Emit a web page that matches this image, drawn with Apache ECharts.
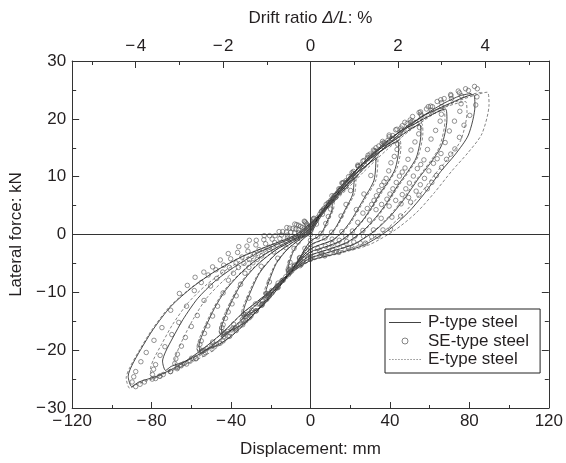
<!DOCTYPE html>
<html>
<head>
<meta charset="utf-8">
<script src="https://cdn.jsdelivr.net/npm/echarts@6/dist/echarts.min.js"></script>
<style>
html,body{margin:0;padding:0;background:#fff;}
#chart{width:566px;height:463px;}
</style>
</head>
<body>
<div id="chart"></div>
<script>
// ---- Data (displacement mm, lateral force kN) ----
const seriesNames = ['P-type steel', 'SE-type steel', 'E-type steel'];

const pType = [
  [0,0],[4,2.5],[8,4.4],
  [11,5.8],[10.7,4.1],[8.8,2.6],[6.6,0.9],[5.3,0.2],[3.6,-0.4],[0,-1.1],[-2.8,-2.5],[-5.5,-4.1],[-8.1,-5.4],[-10.6,-6.1],[-11,-6.2],
  [-11.2,-5.8],[-10.5,-4.7],[-8.6,-2.9],[-5.8,-1.5],[-2.4,-0.4],[-0.9,0],[0.4,0.7],[3.3,2.5],[6.2,4.2],[9.0,5.4],
  [22,9.8],[21.3,7.0],[17.6,4.4],[13.2,1.5],[10.6,0.3],[7.3,-0.7],[0,-1.8],[-5.5,-4.2],[-11,-7.0],[-16.3,-9.2],[-21.1,-10.4],[-22,-10.7],
  [-22.4,-9.9],[-20.9,-8.1],[-17.2,-5.0],[-11.7,-2.6],[-4.8,-0.7],[-1.8,0],[0.9,1.2],[6.6,4.3],[12.3,7.2],[18.0,9.2],
  [33,13.2],[32,9.4],[26.4,5.9],[19.8,2.1],[15.8,0.4],[10.9,-1.0],[0,-2.5],[-8.3,-5.6],[-16.5,-9.4],[-24.4,-12.4],[-31.7,-13.9],[-33,-14.3],
  [-33.7,-13.3],[-31.4,-10.9],[-25.7,-6.7],[-17.5,-3.4],[-7.3,-1.0],[-2.6,0],[1.3,1.7],[9.9,5.8],[18.5,9.6],[27.1,12.4],
  [44,16.1],[44.4,14.7],[42.7,11.4],[39.2,9.2],[35.2,7.2],[30.8,4.7],[26.4,2.5],[21.1,0.5],[14.5,-1.2],[7.0,-2.2],[0,-3.0],
  [-5.3,-4.5],[-11,-6.9],[-16.7,-9.0],[-22,-11.4],[-27.3,-13.4],[-32.6,-15.1],[-37.8,-16.2],[-42.2,-16.9],[-44,-17.4],
  [-44.9,-16.2],[-44,-15.1],[-41.8,-13.2],[-38.7,-10.9],[-34.3,-8.2],[-29,-6.0],[-23.3,-4.2],[-16.7,-2.5],[-9.7,-1.2],[-3.5,0],
  [1.8,2.0],[7.5,4.4],[13.2,7.0],[18.9,9.5],[24.6,11.7],[30.4,13.6],[36.1,15.1],[40.5,15.9],
  [55,19.0],[55.6,17.4],[53.4,13.4],[49,10.9],[44,8.5],[38.5,5.5],[33,3.0],[26.4,0.6],[18.2,-1.4],[8.8,-2.6],[0,-3.6],
  [-6.6,-5.3],[-13.8,-8.1],[-20.9,-10.7],[-27.5,-13.4],[-34.1,-15.8],[-40.7,-17.8],[-47.3,-19.2],[-52.8,-19.9],[-55,-20.5],
  [-56.1,-19.2],[-55,-17.8],[-52.3,-15.6],[-48.4,-12.8],[-42.9,-9.7],[-36.3,-7.1],[-29.2,-4.9],[-20.9,-3.0],[-12.1,-1.4],[-4.4,0],
  [2.2,2.4],[9.4,5.1],[16.5,8.3],[23.7,11.3],[30.8,13.8],[38,16.0],[45.1,17.8],[50.6,18.8],
  [68,21.7],[68.7,19.9],[66,15.4],[60.5,12.4],[54.4,9.7],[47.6,6.3],[40.8,3.4],[32.6,0.7],[22.4,-1.6],[10.9,-2.9],[0,-4.1],
  [-8.8,-6.1],[-18.3,-9.3],[-27.7,-12.2],[-36.5,-15.4],[-45.3,-18.1],[-54,-20.3],[-62.8,-21.9],[-70.1,-22.8],[-73,-23.5],
  [-74.5,-21.9],[-73,-20.3],[-69.4,-17.9],[-64.2,-14.7],[-56.9,-11.1],[-48.2,-8.1],[-38.7,-5.7],[-27.7,-3.4],[-16.1,-1.6],[-5.8,0],
  [2.7,2.7],[11.6,5.9],[20.4,9.5],[29.2,12.9],[38.1,15.8],[46.9,18.3],[55.8,20.3],[62.6,21.5],
  [82,24.2],[82.8,22.2],[79.5,17.2],[73,13.9],[65.6,10.9],[57.4,7.1],[49.2,3.8],[39.4,0.8],[27.1,-1.8],[13.1,-3.3],[0,-4.5],
  [-10.8,-6.8],[-22.5,-10.4],[-34.2,-13.6],[-45,-17.2],[-55.8,-20.2],[-66.6,-22.7],[-77.4,-24.5],[-86.4,-25.5],[-90,-26.3],
  [-91.8,-24.5],[-90,-22.7],[-85.5,-19.9],[-79.2,-16.4],[-70.2,-12.4],[-59.4,-9.1],[-47.7,-6.3],[-34.2,-3.8],[-19.8,-1.8],[-7.2,0],
  [3.3,3.0],[13.9,6.6],[24.6,10.6],[35.3,14.4],[45.9,17.7],[56.6,20.5],[67.2,22.7],[75.4,24.0],[81,24.4]
];

const seType = [
  [0,0],[3,1.8],[6,3.5],
  [11,5.9],[10.1,4.4],[9.0,3.1],[7.7,1.9],[5.3,0.2],[3.6,-0.4],[0,-1.0],[-2.8,-2.4],[-5.5,-4.0],[-8.1,-5.3],[-10.5,-6.0],[-11,-6.2],
  [-11.2,-6.0],[-10.3,-4.8],[-8.3,-2.4],[-6.2,-1.3],[-3.9,-0.2],[-2.0,0.1],[-1.0,0.4],[0.2,0.7],[3.0,2.4],[5.4,3.9],[7.9,5.2],[10.2,5.9],
  [22,10.1],[20.2,7.6],[17.9,5.2],[15.4,3.2],[10.6,0.4],[7.3,-0.6],[0,-1.7],[-5.5,-4.1],[-11,-6.9],[-16.3,-9.1],[-20.9,-10.25],[-22,-10.6],
  [-22.4,-10.25],[-20.7,-8.2],[-16.5,-4.1],[-12.3,-2.3],[-7.7,-0.4],[-4.0,0.2],[-2.0,0.7],[0.4,1.1],[5.9,4.1],[10.8,6.7],[15.8,8.9],[20.5,10.1],
  [33,13.6],[30.4,10.2],[26.9,7.0],[23.1,4.3],[15.8,0.5],[10.9,-0.8],[0,-2.3],[-8.3,-5.5],[-16.5,-9.2],[-24.4,-12.2],[-31.4,-13.75],[-33,-14.2],
  [-33.7,-13.75],[-31,-11.0],[-24.8,-5.5],[-18.5,-3.0],[-11.6,-0.6],[-5.9,0.3],[-3.0,1.0],[0.7,1.5],[8.9,5.5],[16.2,8.9],[23.8,12.0],[30.7,13.6],
  [37,15.2],
  [44,16.6],[43.9,15.6],[43.6,14.7],[42.2,13.5],[40.5,12.4],[39.4,11],[38.1,9.7],[37,9.1],[35.9,8.5],[34.5,7.6],[33.2,6.7],[32,5.9],[30.8,5.2],[28.6,4.5],[26.4,3.7],[23.8,2.1],[21.1,0.6],[17.8,-0.3],[14.5,-1.0],[11,-1.6],[7.5,-2.0],[3.7,-2.4],[0,-2.8],
  [-2.6,-3.5],[-5.3,-4.4],[-8.1,-5.5],[-11,-6.7],[-13.9,-7.9],[-16.7,-9.0],[-19.4,-10.1],[-22,-11.2],[-24.7,-12.2],[-27.3,-13.2],[-30,-14.1],[-32.6,-14.9],[-35.2,-15.6],[-37.8,-16.1],[-39.8,-16.5],[-41.8,-16.75],[-43,-17.0],[-44,-17.3],
  [-44.9,-16.75],[-44.6,-16.1],[-44,-15.6],[-42.8,-14.5],[-41.4,-13.4],[-39.5,-12.0],[-37.4,-10.6],[-35.2,-8.6],[-33,-6.7],[-31,-5.7],[-29,-4.9],[-26.8,-4.3],[-24.6,-3.7],[-22.6,-2.9],[-20.7,-2.2],[-18,-1.4],[-15.4,-0.7],[-11.6,-0.1],[-7.9,0.3],[-6,0.8],[-4,1.2],[-1.5,1.5],
  [0.9,1.8],[3.8,3.0],[6.6,4.2],[9.3,5.5],[11.9,6.7],[14.3,7.9],[16.7,9.0],[19.2,10.0],[21.6,10.9],[24,11.8],[26.4,12.7],[29,13.7],[31.7,14.6],[34.4,15.3],[37,15.9],[39,16.3],[40.9,16.6],
  [45,17.6],[50,18.7],
  [55,19.6],[54.9,18.5],[54.5,17.4],[52.6,16.0],[50.6,14.6],[49.1,13.0],[47.6,11.5],[46.2,10.8],[44.8,10.1],[43.2,9.0],[41.5,7.9],[40,7.0],[38.5,6.1],[35.8,5.2],[33,4.3],[29.7,2.5],[26.4,0.7],[22.3,-0.3],[18.2,-1.2],[13.8,-1.8],[9.4,-2.4],[4.7,-2.9],[0,-3.4],
  [-3.3,-4.2],[-6.6,-5.1],[-10.2,-6.5],[-13.8,-7.9],[-17.4,-9.3],[-20.9,-10.7],[-24.2,-12.0],[-27.5,-13.2],[-30.8,-14.4],[-34.1,-15.6],[-37.4,-16.6],[-40.7,-17.6],[-44,-18.4],[-47.3,-19.0],[-49.8,-19.4],[-52.3,-19.75],[-53.7,-20.0],[-55,-20.3],
  [-56.1,-19.75],[-55.7,-19.0],[-55,-18.4],[-53.4,-17.1],[-51.7,-15.8],[-49.3,-14.1],[-46.8,-12.4],[-44,-10.1],[-41.3,-7.9],[-38.8,-6.7],[-36.3,-5.7],[-33.5,-5.0],[-30.8,-4.3],[-28.3,-3.4],[-25.9,-2.6],[-22.6,-1.6],[-19.3,-0.8],[-14.6,-0.1],[-9.9,0.4],[-7.4,0.9],[-5,1.4],[-1.9,1.8],
  [1.1,2.2],[4.7,3.5],[8.3,4.9],[11.6,6.4],[14.9,7.9],[17.9,9.3],[20.9,10.7],[24,11.8],[27,12.8],[30,13.9],[33,15.0],[36.3,16.1],[39.6,17.2],[42.9,18.1],[46.2,18.8],[48.7,19.2],[51.2,19.6],
  [56,20.5],[61,21.4],
  [66,22.1],[65.9,20.8],[65.3,19.6],[63,18.0],[60.7,16.5],[58.9,14.7],[57.1,12.9],[55.5,12.1],[53.8,11.4],[51.8,10.1],[49.8,8.9],[48,7.9],[46.2,6.9],[42.9,5.9],[39.6,4.9],[35.6,2.8],[31.7,0.8],[26.7,-0.3],[21.8,-1.3],[16.5,-2.0],[11.2,-2.7],[5.6,-3.3],[0,-3.8],
  [-4,-4.7],[-8,-5.8],[-12.4,-7.3],[-16.8,-8.9],[-21.1,-10.5],[-25.5,-12.0],[-29.5,-13.5],[-33.5,-14.9],[-37.5,-16.3],[-41.5,-17.6],[-45.5,-18.8],[-49.6,-19.8],[-53.6,-20.7],[-57.6,-21.4],[-60.6,-21.9],[-63.7,-22.3],[-65.4,-22.6],[-67,-23.0],
  [-68.3,-22.3],[-67.8,-21.5],[-67,-20.7],[-65,-19.3],[-63,-17.8],[-60,-15.9],[-57,-14.0],[-53.6,-11.4],[-50.3,-8.9],[-47.2,-7.6],[-44.2,-6.5],[-40.8,-5.7],[-37.5,-4.9],[-34.5,-3.9],[-31.5,-2.9],[-27.5,-1.8],[-23.5,-0.9],[-17.8,-0.2],[-12.1,0.4],[-9,1.0],[-6,1.6],[-2.4,2.0],
  [1.3,2.5],[5.6,4.0],[9.9,5.6],[13.8,7.2],[17.8,8.9],[21.4,10.5],[25.1,12.0],[28.7,13.3],[32.3,14.5],[36,15.7],[39.6,16.9],[43.5,18.2],[47.5,19.4],[51.4,20.4],[55.4,21.2],[58.4,21.7],[61.4,22.1],
  [66,22.8],[71,23.5],
  [76,24.0],[75.8,22.6],[75.2,21.3],[72.5,19.6],[69.9,17.9],[67.8,15.9],[65.7,14.0],[63.8,13.1],[61.9,12.3],[59.6,11.0],[57.4,9.7],[55.3,8.6],[53.2,7.5],[49.4,6.4],[45.6,5.3],[41,3.0],[36.5,0.8],[30.8,-0.4],[25.1,-1.5],[19,-2.2],[12.9,-2.9],[6.4,-3.5],[0,-4.1],
  [-4.7,-5.2],[-9.4,-6.3],[-14.4,-8.0],[-19.5,-9.7],[-24.5,-11.4],[-29.6,-13.1],[-34.3,-14.7],[-39,-16.2],[-43.7,-17.7],[-48.4,-19.1],[-53,-20.4],[-57.7,-21.5],[-62.4,-22.4],[-67.1,-23.2],[-70.6,-23.7],[-74.1,-24.2],[-76,-24.5],[-78,-24.9],
  [-79.6,-24.2],[-79,-23.3],[-78,-22.5],[-75.7,-20.9],[-73.3,-19.4],[-69.8,-17.3],[-66.3,-15.2],[-62.4,-12.4],[-58.5,-9.7],[-55,-8.3],[-51.5,-7.0],[-47.6,-6.1],[-43.7,-5.3],[-40.2,-4.2],[-36.7,-3.1],[-32,-2.0],[-27.3,-1.0],[-20.6,-0.2],[-14,0.5],[-10.5,1.1],[-7,1.7],[-2.8,2.2],
  [1.5,2.7],[6.5,4.4],[11.4,6.1],[16,7.9],[20.5,9.7],[24.7,11.4],[28.9,13.1],[33,14.4],[37.2,15.7],[41.4,17.1],[45.6,18.4],[50.2,19.8],[54.7,21.1],[59.3,22.1],[63.8,23.0],[67.3,23.5],[70.7,24.0],
  [75,24.5],[79.5,24.9],
  [84,25.2],[83.8,23.8],[83.2,22.4],[80.2,20.6],[77.3,18.9],[75,16.8],[72.7,14.8],[70.6,13.9],[68.5,13.0],[66,11.6],[63.4,10.2],[61.1,9.0],[58.8,7.9],[54.6,6.8],[50.4,5.6],[45.4,3.2],[40.3,0.9],[34,-0.3],[27.7,-1.5],[21,-2.3],[14.3,-3.1],[7.2,-3.7],[0,-4.3],
  [-5.3,-5.4],[-10.6,-6.6],[-16.3,-8.4],[-22,-10.2],[-27.7,-12.0],[-33.4,-13.8],[-38.7,-15.5],[-44,-17.1],[-49.3,-18.6],[-54.6,-20.1],[-59.9,-21.4],[-65.1,-22.7],[-70.4,-23.7],[-75.7,-24.5],[-79.7,-25.0],[-83.6,-25.5],[-85.8,-25.9],[-88,-26.3],
  [-89.8,-25.5],[-89,-24.6],[-88,-23.7],[-85.4,-22.0],[-82.7,-20.4],[-78.8,-18.3],[-74.8,-16.1],[-70.4,-13.1],[-66,-10.2],[-62,-8.8],[-58.1,-7.4],[-53.7,-6.5],[-49.3,-5.6],[-45.4,-4.4],[-41.4,-3.3],[-36.1,-2.1],[-30.8,-1.0],[-23.3,-0.2],[-15.8,0.5],[-11.9,1.2],[-7.9,1.8],[-3.1,2.3],
  [1.7,2.8],[7.2,4.6],[12.6,6.4],[17.7,8.3],[22.7,10.2],[27.3,12.0],[31.9,13.8],[36.6,15.2],[41.2,16.6],[45.8,18.0],[50.4,19.4],[55.5,20.8],[60.5,22.2],[65.6,23.3],[70.6,24.2],[74.4,24.8],[78.1,25.2],[82.6,25.6]
];

const eType = [
  [0,0],[4,2.6],[8,4.6],
  [12,6.1],[11.6,4.4],[9.6,2.8],[7.2,1.0],[5.8,0.2],[4.0,-0.4],[0,-1.2],[-3.0,-2.6],[-6.0,-4.4],[-8.9,-5.8],[-11.5,-6.5],[-12,-6.7],
  [-12.2,-6.2],[-11.4,-5.1],[-9.4,-3.1],[-6.4,-1.6],[-2.6,-0.4],[-1.0,0],[0.5,0.8],[3.6,2.7],[6.7,4.5],[9.8,5.8],
  [23,10.2],[22.3,7.2],[18.4,4.6],[13.8,1.6],[11,0.3],[7.6,-0.7],[0,-1.9],[-5.8,-4.3],[-11.5,-7.2],[-17,-9.5],[-22.1,-10.7],[-23,-11.0],
  [-23.5,-10.3],[-21.9,-8.4],[-17.9,-5.2],[-12.2,-2.7],[-5.1,-0.7],[-1.8,0],[0.9,1.3],[6.9,4.5],[12.9,7.4],[18.9,9.5],
  [34,13.4],[33,9.5],[27.2,6.0],[20.4,2.1],[16.3,0.4],[11.2,-1.0],[0,-2.5],[-8.5,-5.7],[-17,-9.5],[-25.2,-12.6],[-32.6,-14.1],[-34,-14.6],
  [-34.7,-13.6],[-32.3,-11.1],[-26.5,-6.9],[-18,-3.5],[-7.5,-1.0],[-2.7,0],[1.4,1.7],[10.2,5.9],[19,9.8],[27.9,12.6],
  [45,16.3],[45.5,15.0],[43.7,11.6],[40,9.4],[36,7.3],[31.5,4.8],[27,2.6],[21.6,0.5],[14.9,-1.2],[7.2,-2.2],[0,-3.1],
  [-5.4,-4.6],[-11.3,-7.0],[-17.1,-9.2],[-22.5,-11.6],[-27.9,-13.6],[-33.3,-15.3],[-38.7,-16.5],[-43.2,-17.2],[-45,-17.7],
  [-45.9,-16.5],[-45,-15.3],[-42.8,-13.4],[-39.6,-11.1],[-35.1,-8.3],[-29.7,-6.1],[-23.9,-4.3],[-17.1,-2.6],[-9.9,-1.2],[-3.6,0],
  [1.8,2.0],[7.7,4.4],[13.5,7.1],[19.4,9.7],[25.2,11.9],[31.1,13.8],[36.9,15.3],[41.4,16.2],
  [56,19.2],[56.6,17.6],[54.3,13.6],[49.8,11.0],[44.8,8.6],[39.2,5.6],[33.6,3.0],[26.9,0.6],[18.5,-1.4],[9.0,-2.6],[0,-3.6],
  [-6.7,-5.4],[-14,-8.2],[-21.3,-10.8],[-28,-13.6],[-34.7,-16.0],[-41.4,-18.0],[-48.2,-19.4],[-53.8,-20.2],[-56,-20.8],
  [-57.1,-19.4],[-56,-18.0],[-53.2,-15.8],[-49.3,-13.0],[-43.7,-9.8],[-37,-7.2],[-29.7,-5.0],[-21.3,-3.0],[-12.3,-1.4],[-4.5,0],
  [2.2,2.4],[9.5,5.2],[16.8,8.4],[24.1,11.4],[31.4,14.0],[38.6,16.2],[45.9,18.0],[51.5,19.0],
  [67,21.5],[67.7,19.7],[65,15.2],[59.6,12.3],[53.6,9.6],[46.9,6.3],[40.2,3.4],[32.2,0.7],[22.1,-1.6],[10.7,-2.9],[0,-4.0],
  [-8,-6.0],[-16.8,-9.2],[-25.5,-12.1],[-33.5,-15.2],[-41.5,-17.9],[-49.6,-20.2],[-57.6,-21.7],[-64.3,-22.6],[-67,-23.3],
  [-68.3,-21.7],[-67,-20.2],[-63.7,-17.7],[-59,-14.6],[-52.3,-11.0],[-44.2,-8.1],[-35.5,-5.6],[-25.5,-3.4],[-14.7,-1.6],[-5.4,0],
  [2.7,2.7],[11.4,5.8],[20.1,9.4],[28.8,12.8],[37.5,15.7],[46.2,18.1],[54.9,20.2],[61.6,21.3],
  [78,23.0],[78.8,21.1],[75.7,16.3],[69.4,13.2],[62.4,10.3],[54.6,6.7],[46.8,3.6],[37.4,0.7],[25.7,-1.7],[12.5,-3.1],[0,-4.3],
  [-9.5,-6.5],[-19.8,-9.8],[-30,-13.0],[-39.5,-16.3],[-49,-19.2],[-58.5,-21.6],[-67.9,-23.3],[-75.8,-24.2],[-79,-25.0],
  [-80.6,-23.3],[-79,-21.6],[-75,-19.0],[-69.5,-15.6],[-61.6,-11.8],[-52.1,-8.6],[-41.9,-6.0],[-30,-3.6],[-17.4,-1.7],[-6.3,0],
  [3.1,2.9],[13.3,6.2],[23.4,10.1],[33.5,13.7],[43.7,16.8],[53.8,19.4],[64,21.6],[71.8,22.8],
  [89,24.6],[89.9,22.5],[86.3,17.4],[79.2,14.1],[71.2,11.0],[62.3,7.2],[53.4,3.8],[42.7,0.8],[29.4,-1.8],[14.2,-3.3],[0,-4.6],
  [-10.9,-6.9],[-22.8,-10.5],[-34.6,-13.8],[-45.5,-17.4],[-56.4,-20.5],[-67.3,-23.0],[-78.3,-24.8],[-87.4,-25.9],[-91,-26.6],
  [-92.8,-24.8],[-91,-23.0],[-86.5,-20.2],[-80.1,-16.6],[-71,-12.5],[-60.1,-9.2],[-48.2,-6.4],[-34.6,-3.8],[-20,-1.8],[-7.3,0],
  [3.6,3.1],[15.1,6.7],[26.7,10.8],[38.3,14.6],[49.8,17.9],[61.4,20.7],[73,23.0],[81.9,24.3],[87,24.6]
];

// Axis ticks
const dispRange = [-120, 120];
const dispStep = 40;
const forceRange = [-30, 30];
const forceStep = 10;
const mmPerDriftPercent = 22;           // drift ratio 1 % = 22 mm
const driftMajor = [-4, -2, 0, 2, 4];
const driftMinor = [-5, -3, -1, 1, 3, 5];

const FONT = '"Liberation Sans", Arial, sans-serif';
const FS = 17;
const TXT = '#231f20';
const AX = '#333';
const minus = v => String(v).replace('-', '\u2212\u200A');

const driftMax = dispRange[1] / mmPerDriftPercent;

// legend icons (style only)
const solidIcon = 'path://M0,0H32V1H0Z';
let dashPath = '';
for (let x = 0; x < 32; x += 3) dashPath += 'M' + x + ',0H' + Math.min(x + 1.6, 32) + 'V1H' + x + 'Z';
const dashIcon = 'path://' + dashPath;

const chart = echarts.init(document.getElementById('chart'), null, {renderer: 'canvas'});

const baseText = {fontFamily: FONT, fontSize: FS, color: TXT};

chart.setOption({
  animation: false,
  backgroundColor: '#fff',
  textStyle: {fontFamily: FONT},
  grid: {left: 69, right: 16, top: 61, bottom: 51, containLabel: false},
  legend: {
    show: true,
    left: 385, top: 309,
    orient: 'vertical',
    itemWidth: 32, itemHeight: 6, itemGap: 1.5,
    symbolKeepAspect: true,
    padding: [5, 11, 5, 4],
    borderColor: '#222', borderWidth: 1,
    backgroundColor: '#fff',
    textStyle: {fontFamily: FONT, fontSize: FS, color: TXT, padding: [0, 0, 0, 2]},
    data: [
      {name: seriesNames[0], icon: solidIcon, itemStyle: {color: '#444'}},
      {name: seriesNames[1], icon: 'circle', itemStyle: {color: 'rgba(255,255,255,0)', borderColor: '#555', borderWidth: 0.9}},
      {name: seriesNames[2], icon: dashIcon, itemStyle: {color: '#999'}}
    ]
  },
  xAxis: [
    {
      type: 'value', position: 'bottom', min: dispRange[0], max: dispRange[1], interval: dispStep,
      name: 'Displacement: mm', nameLocation: 'middle', nameGap: 33,
      nameTextStyle: baseText,
      axisLine: {show: true, onZero: false, lineStyle: {color: AX, width: 1}},
      axisTick: {show: true, inside: true, length: 6, lineStyle: {color: AX}},
      minorTick: {show: true, splitNumber: 2, length: 3, lineStyle: {color: AX}},
      axisLabel: {margin: 5, fontFamily: FONT, fontSize: FS, color: TXT, formatter: minus},
      splitLine: {show: false}
    },
    {
      type: 'value', position: 'top', min: -driftMax, max: driftMax,
      name: '{n|Drift ratio }{i|\u0394/L}{n|: %}', nameLocation: 'middle', nameGap: 34,
      nameTextStyle: {fontFamily: FONT, fontSize: FS, color: TXT, rich: {
        n: {fontFamily: FONT, fontSize: FS, color: TXT},
        i: {fontFamily: FONT, fontSize: FS, color: TXT, fontStyle: 'italic'}
      }},
      axisLine: {show: true, onZero: false, lineStyle: {color: AX, width: 1}},
      axisTick: {show: true, inside: true, length: 7, customValues: driftMajor, lineStyle: {color: AX}},
      axisLabel: {margin: 6, fontFamily: FONT, fontSize: FS, color: TXT, customValues: driftMajor, formatter: minus},
      splitLine: {show: false}
    },
    {
      type: 'value', position: 'top', min: -driftMax, max: driftMax,
      axisLine: {show: false, onZero: false},
      axisTick: {show: true, inside: true, length: 4, customValues: driftMinor, lineStyle: {color: AX}},
      axisLabel: {show: false},
      splitLine: {show: false}
    }
  ],
  yAxis: [
    {
      type: 'value', position: 'left', min: forceRange[0], max: forceRange[1], interval: forceStep,
      name: 'Lateral force: kN', nameLocation: 'middle', nameGap: 43, nameRotate: 90,
      nameTextStyle: baseText,
      axisLine: {show: true, onZero: false, lineStyle: {color: AX, width: 1}},
      axisTick: {show: true, inside: true, length: 7, lineStyle: {color: AX}},
      minorTick: {show: true, splitNumber: 2, length: 4, lineStyle: {color: AX}},
      axisLabel: {margin: 6, fontFamily: FONT, fontSize: FS, color: TXT, formatter: minus},
      splitLine: {show: false}
    },
    {
      type: 'value', position: 'right', min: forceRange[0], max: forceRange[1], interval: forceStep,
      axisLine: {show: true, onZero: false, lineStyle: {color: AX, width: 1}},
      axisTick: {show: true, inside: true, length: 7, lineStyle: {color: AX}},
      minorTick: {show: true, splitNumber: 2, length: 4, lineStyle: {color: AX}},
      axisLabel: {show: false},
      splitLine: {show: false}
    }
  ],
  series: [
    {
      name: seriesNames[0], type: 'line', xAxisIndex: 0, yAxisIndex: 0,
      data: pType, showSymbol: false, symbol: 'none', smooth: 0.25,
      lineStyle: {color: '#1a1a1a', width: 0.8, type: 'solid'},
      itemStyle: {color: '#1a1a1a'},
      z: 3,
      markLine: {
        silent: true, symbol: 'none', label: {show: false},
        lineStyle: {color: AX, width: 1, type: 'solid'},
        data: [{yAxis: 0}, {xAxis: 0}]
      }
    },
    {
      name: seriesNames[1], type: 'scatter', xAxisIndex: 0, yAxisIndex: 0,
      data: seType, symbol: 'circle', symbolSize: 4.5,
      itemStyle: {color: 'rgba(255,255,255,0)', borderColor: '#555', borderWidth: 0.8},
      z: 4
    },
    {
      name: seriesNames[2], type: 'line', xAxisIndex: 0, yAxisIndex: 0,
      data: eType, showSymbol: false, symbol: 'none', smooth: 0.25,
      lineStyle: {color: '#666', width: 0.8, type: [3, 2]},
      itemStyle: {color: '#666'},
      z: 2
    }
  ]
});
</script>
</body>
</html>
